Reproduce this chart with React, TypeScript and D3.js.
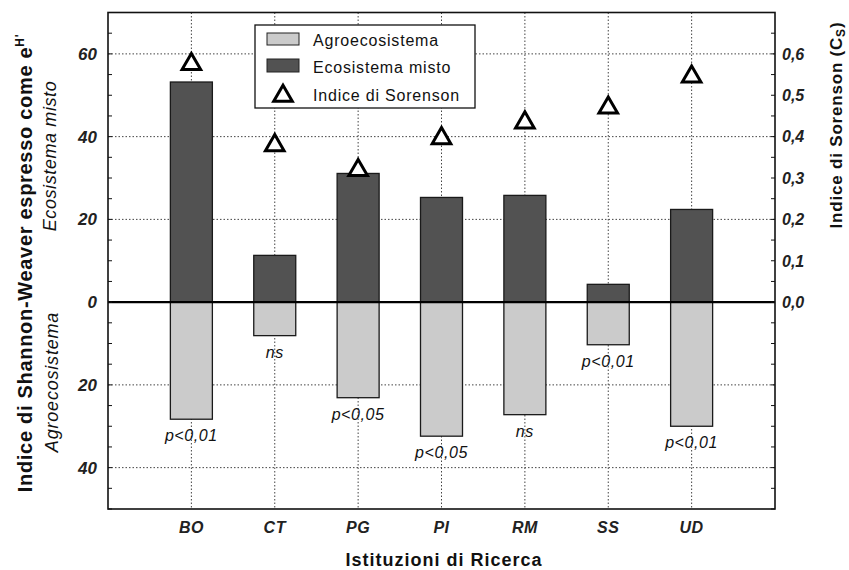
import React from "react";
import * as d3 from "d3";

const categories = ["BO", "CT", "PG", "PI", "RM", "SS", "UD"];
const ecosistemaMisto = [53.2, 11.3, 31.1, 25.3, 25.8, 4.3, 22.4];
const agroecosistema = [28.3, 8.1, 23.1, 32.4, 27.2, 10.3, 30.0];
const sorenson = [0.575, 0.379, 0.319, 0.396, 0.434, 0.47, 0.545];
const significance = ["p<0,01", "ns", "p<0,05", "p<0,05", "ns", "p<0,01", "p<0,01"];
const leftTicks = [60, 40, 20, 0, -20, -40];
const rightTicks = [0, 0.1, 0.2, 0.3, 0.4, 0.5, 0.6];

const W = 849;
const H = 570;
const L = 108;
const R = 775;
const T = 12.5;
const B = 509;

export default function App() {
  const x = d3.scalePoint<string>().domain(categories).range([L, R]).padding(1);
  const y = d3.scaleLinear().domain([-50, 70]).range([B, T]);
  const yr = d3.scaleLinear().domain([-0.5, 0.7]).range([B, T]);
  const bw = 42;
  const font = "'Liberation Sans', Arial, Helvetica, sans-serif";
  const minorLeft = d3.range(-50, 71, 5);
  const minorRight = d3.range(-0.5, 0.701, 0.05);
  const gridH = leftTicks.filter((v) => v !== 0);
  const tri = d3.symbol().type(d3.symbolTriangle).size(150);

  return (
    <svg
      width={W}
      height={H}
      style={{ position: "absolute", left: 0, top: 0, background: "#fff" }}
      fontFamily={font}
    >
      {/* grid */}
      <g stroke="#444" strokeWidth={1} strokeDasharray="1.5,2">
        {gridH.map((v) => (
          <line key={"gh" + v} x1={L} x2={R} y1={y(v)} y2={y(v)} />
        ))}
        {categories.map((c) => (
          <line key={"gv" + c} x1={x(c)} x2={x(c)} y1={T} y2={B} />
        ))}
      </g>
      {/* bars */}
      <g stroke="#1a1a1a" strokeWidth={1.3}>
        {categories.map((c, i) => (
          <rect
            key={"e" + c}
            x={(x(c) as number) - bw / 2}
            y={y(ecosistemaMisto[i])}
            width={bw}
            height={y(0) - y(ecosistemaMisto[i])}
            fill="#525252"
          />
        ))}
        {categories.map((c, i) => (
          <rect
            key={"a" + c}
            x={(x(c) as number) - bw / 2}
            y={y(0)}
            width={bw}
            height={y(-agroecosistema[i]) - y(0)}
            fill="#cbcbcb"
          />
        ))}
      </g>
      {/* zero line */}
      <line x1={L} x2={R} y1={y(0)} y2={y(0)} stroke="#000" strokeWidth={2.2} />
      {/* significance labels */}
      {categories.map((c, i) => (
        <text
          key={"p" + c}
          x={x(c)}
          y={y(-agroecosistema[i]) + 22}
          textAnchor="middle"
          fontSize={16}
          letterSpacing={0.6}
          fontStyle="italic"
          fill="#111"
        >
          {significance[i]}
        </text>
      ))}
      {/* legend */}
      <g>
        <rect x={255} y={25} width={220} height={83} fill="#fff" stroke="#111" strokeWidth={1.3} />
        <rect x={267} y={33} width={32} height={12} fill="#cbcbcb" stroke="#222" strokeWidth={1} />
        <rect x={267} y={59} width={32} height={13} fill="#525252" stroke="#222" strokeWidth={1} />
        <path d={tri() as string} transform="translate(283,96)" fill="#fff" stroke="#000" strokeWidth={3} />
        <text x={313} y={46} fontSize={16} letterSpacing={0.8} fill="#111">Agroecosistema</text>
        <text x={313} y={73} fontSize={16} letterSpacing={0.8} fill="#111">Ecosistema misto</text>
        <text x={313} y={101} fontSize={16} letterSpacing={0.8} fill="#111">Indice di Sorenson</text>
      </g>
      {/* triangles */}
      {categories.map((c, i) => (
        <path
          key={"t" + c}
          d={tri() as string}
          transform={`translate(${x(c)},${yr(sorenson[i])})`}
          fill="#fff"
          stroke="#000"
          strokeWidth={3}
        />
      ))}
      {/* frame */}
      <rect x={L} y={T} width={R - L} height={B - T} fill="none" stroke="#111" strokeWidth={1.6} />
      {/* minor ticks */}
      <g stroke="#111" strokeWidth={1}>
        {minorLeft.map((v) => (
          <line key={"lt" + v} x1={L} x2={L + 4} y1={y(v)} y2={y(v)} />
        ))}
        {minorRight.map((v, k) => (
          <line key={"rt" + k} x1={R} x2={R - 4} y1={yr(v)} y2={yr(v)} />
        ))}
      </g>
      {/* left tick labels */}
      {leftTicks.map((v) => (
        <text
          key={"ll" + v}
          x={97}
          y={y(v)}
          dy="0.36em"
          textAnchor="end"
          fontSize={17}
          fontWeight="bold"
          fontStyle="italic"
          fill="#222"
        >
          {Math.abs(v)}
        </text>
      ))}
      {/* right tick labels */}
      {rightTicks.map((v) => (
        <text
          key={"rl" + v}
          x={782}
          y={yr(v)}
          dy="0.36em"
          textAnchor="start"
          fontSize={16}
          fontWeight="bold"
          fontStyle="italic"
          fill="#222"
        >
          {v.toFixed(1).replace(".", ",")}
        </text>
      ))}
      {/* x labels */}
      {categories.map((c) => (
        <text
          key={"xl" + c}
          x={x(c)}
          y={533}
          textAnchor="middle"
          fontSize={16}
          letterSpacing={0.5}
          fontWeight="bold"
          fontStyle="italic"
          fill="#222"
        >
          {c}
        </text>
      ))}
      <text x={444} y={566} textAnchor="middle" fontSize={18} letterSpacing={1} fontWeight="bold" fill="#111">
        Istituzioni di Ricerca
      </text>
      {/* left titles */}
      <text transform="translate(32,263) rotate(-90)" textAnchor="middle" fontSize={20} letterSpacing={0.7} fontWeight="bold" fill="#111">
        Indice di Shannon-Weaver espresso come e
        <tspan fontSize={12} dy={-8}>H'</tspan>
      </text>
      <text transform="translate(56,156) rotate(-90)" textAnchor="middle" fontSize={18} letterSpacing={0.6} fontStyle="italic" fill="#111">
        Ecosistema misto
      </text>
      <text transform="translate(58,382) rotate(-90)" textAnchor="middle" fontSize={18} letterSpacing={0.8} fontStyle="italic" fill="#111">
        Agroecosistema
      </text>
      {/* right title */}
      <text transform="translate(842,125) rotate(-90)" textAnchor="middle" fontSize={17} letterSpacing={0.8} fontWeight="bold" fill="#111">
        Indice di Sorenson (C
        <tspan fontSize={12} dy={3}>S</tspan>
        <tspan dy={-3}>)</tspan>
      </text>
    </svg>
  );
}
